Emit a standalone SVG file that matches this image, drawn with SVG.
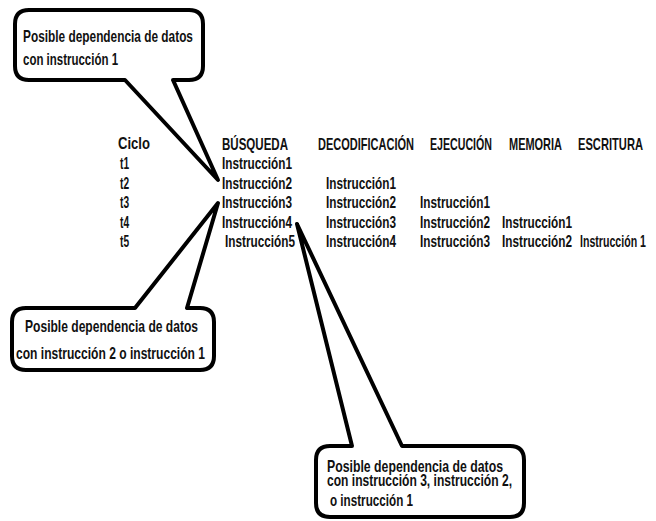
<svg xmlns="http://www.w3.org/2000/svg" width="656" height="521" viewBox="0 0 656 521">
<style>
text{font-family:"Liberation Sans Narrow","Liberation Sans",Arial,sans-serif;font-size:16px;font-weight:bold;fill:#111}
.call{fill:#fff;stroke:#000;stroke-width:4;stroke-linejoin:round}
</style>
<rect width="656" height="521" fill="#fff"/>
<g id="callout1">
<path class="call" d="M29,10 H189 Q203,10 203,24 V66 Q203,80 189,80 H173 L218,180 L125,80 H29 Q15,80 15,66 V24 Q15,10 29,10 Z"/>
<text transform="matrix(.74 0 0 1 23 42)" textLength="229.7" lengthAdjust="spacingAndGlyphs">Posible dependencia de datos</text>
<text transform="matrix(.74 0 0 1 23 65)" textLength="128.4" lengthAdjust="spacingAndGlyphs">con instrucción 1</text>
</g>
<g id="callout2">
<path class="call" d="M26,308 H135 L218,203 L187,308 H200 Q214,308 214,322 V356 Q214,370 200,370 H26 Q12,370 12,356 V322 Q12,308 26,308 Z"/>
<text transform="matrix(.74 0 0 1 25 332)" textLength="233.8" lengthAdjust="spacingAndGlyphs">Posible dependencia de datos</text>
<text transform="matrix(.74 0 0 1 16 359)" textLength="255.4" lengthAdjust="spacingAndGlyphs">con instrucción 2 o instrucción 1</text>
</g>
<g id="callout3">
<path class="call" d="M330,446 H352 L297,224 L402,446 H510 Q524,446 524,460 V503 Q524,517 510,517 H330 Q316,517 316,503 V460 Q316,446 330,446 Z"/>
<text transform="matrix(.74 0 0 1 327 472)" textLength="237.8" lengthAdjust="spacingAndGlyphs">Posible dependencia de datos</text>
<text transform="matrix(.74 0 0 1 327 486)" textLength="250" lengthAdjust="spacingAndGlyphs">con instrucción 3, instrucción 2,</text>
<text transform="matrix(.74 0 0 1 330 506)" textLength="112.2" lengthAdjust="spacingAndGlyphs">o instrucción 1</text>
</g>
<g id="table">
<text transform="matrix(.74 0 0 1 118 149)" textLength="43.2" lengthAdjust="spacingAndGlyphs">Ciclo</text>
<text transform="matrix(.74 0 0 1 222 150)" textLength="89.2" lengthAdjust="spacingAndGlyphs">BÚSQUEDA</text>
<text transform="matrix(.74 0 0 1 318 150)" textLength="129.7" lengthAdjust="spacingAndGlyphs">DECODIFICACIÓN</text>
<text transform="matrix(.74 0 0 1 430 150)" textLength="83.8" lengthAdjust="spacingAndGlyphs">EJECUCIÓN</text>
<text transform="matrix(.74 0 0 1 509 150)" textLength="71.6" lengthAdjust="spacingAndGlyphs">MEMORIA</text>
<text transform="matrix(.74 0 0 1 578 150)" textLength="87.8" lengthAdjust="spacingAndGlyphs">ESCRITURA</text>
<text transform="matrix(.74 0 0 1 120 169)" textLength="12.2" lengthAdjust="spacingAndGlyphs">t1</text>
<text transform="matrix(.74 0 0 1 120 189)" textLength="12.2" lengthAdjust="spacingAndGlyphs">t2</text>
<text transform="matrix(.74 0 0 1 120 208)" textLength="12.2" lengthAdjust="spacingAndGlyphs">t3</text>
<text transform="matrix(.74 0 0 1 120 228)" textLength="12.2" lengthAdjust="spacingAndGlyphs">t4</text>
<text transform="matrix(.74 0 0 1 120 247)" textLength="12.2" lengthAdjust="spacingAndGlyphs">t5</text>
<text transform="matrix(.74 0 0 1 222 169)" textLength="94.6" lengthAdjust="spacingAndGlyphs">Instrucción1</text>
<text transform="matrix(.74 0 0 1 222 189)" textLength="94.6" lengthAdjust="spacingAndGlyphs">Instrucción2</text>
<text transform="matrix(.74 0 0 1 222 208)" textLength="94.6" lengthAdjust="spacingAndGlyphs">Instrucción3</text>
<text transform="matrix(.74 0 0 1 222 228)" textLength="94.6" lengthAdjust="spacingAndGlyphs">Instrucción4</text>
<text transform="matrix(.74 0 0 1 225 247)" textLength="94.6" lengthAdjust="spacingAndGlyphs">Instrucción5</text>
<text transform="matrix(.74 0 0 1 326 189)" textLength="94.6" lengthAdjust="spacingAndGlyphs">Instrucción1</text>
<text transform="matrix(.74 0 0 1 326 208)" textLength="94.6" lengthAdjust="spacingAndGlyphs">Instrucción2</text>
<text transform="matrix(.74 0 0 1 326 228)" textLength="94.6" lengthAdjust="spacingAndGlyphs">Instrucción3</text>
<text transform="matrix(.74 0 0 1 326 247)" textLength="94.6" lengthAdjust="spacingAndGlyphs">Instrucción4</text>
<text transform="matrix(.74 0 0 1 420 208)" textLength="94.6" lengthAdjust="spacingAndGlyphs">Instrucción1</text>
<text transform="matrix(.74 0 0 1 420 228)" textLength="94.6" lengthAdjust="spacingAndGlyphs">Instrucción2</text>
<text transform="matrix(.74 0 0 1 420 247)" textLength="94.6" lengthAdjust="spacingAndGlyphs">Instrucción3</text>
<text transform="matrix(.74 0 0 1 502 228)" textLength="94.6" lengthAdjust="spacingAndGlyphs">Instrucción1</text>
<text transform="matrix(.74 0 0 1 502 247)" textLength="94.6" lengthAdjust="spacingAndGlyphs">Instrucción2</text>
<text transform="matrix(.74 0 0 1 580 247)" textLength="89.2" lengthAdjust="spacingAndGlyphs">Instrucción 1</text>
</g>
</svg>
